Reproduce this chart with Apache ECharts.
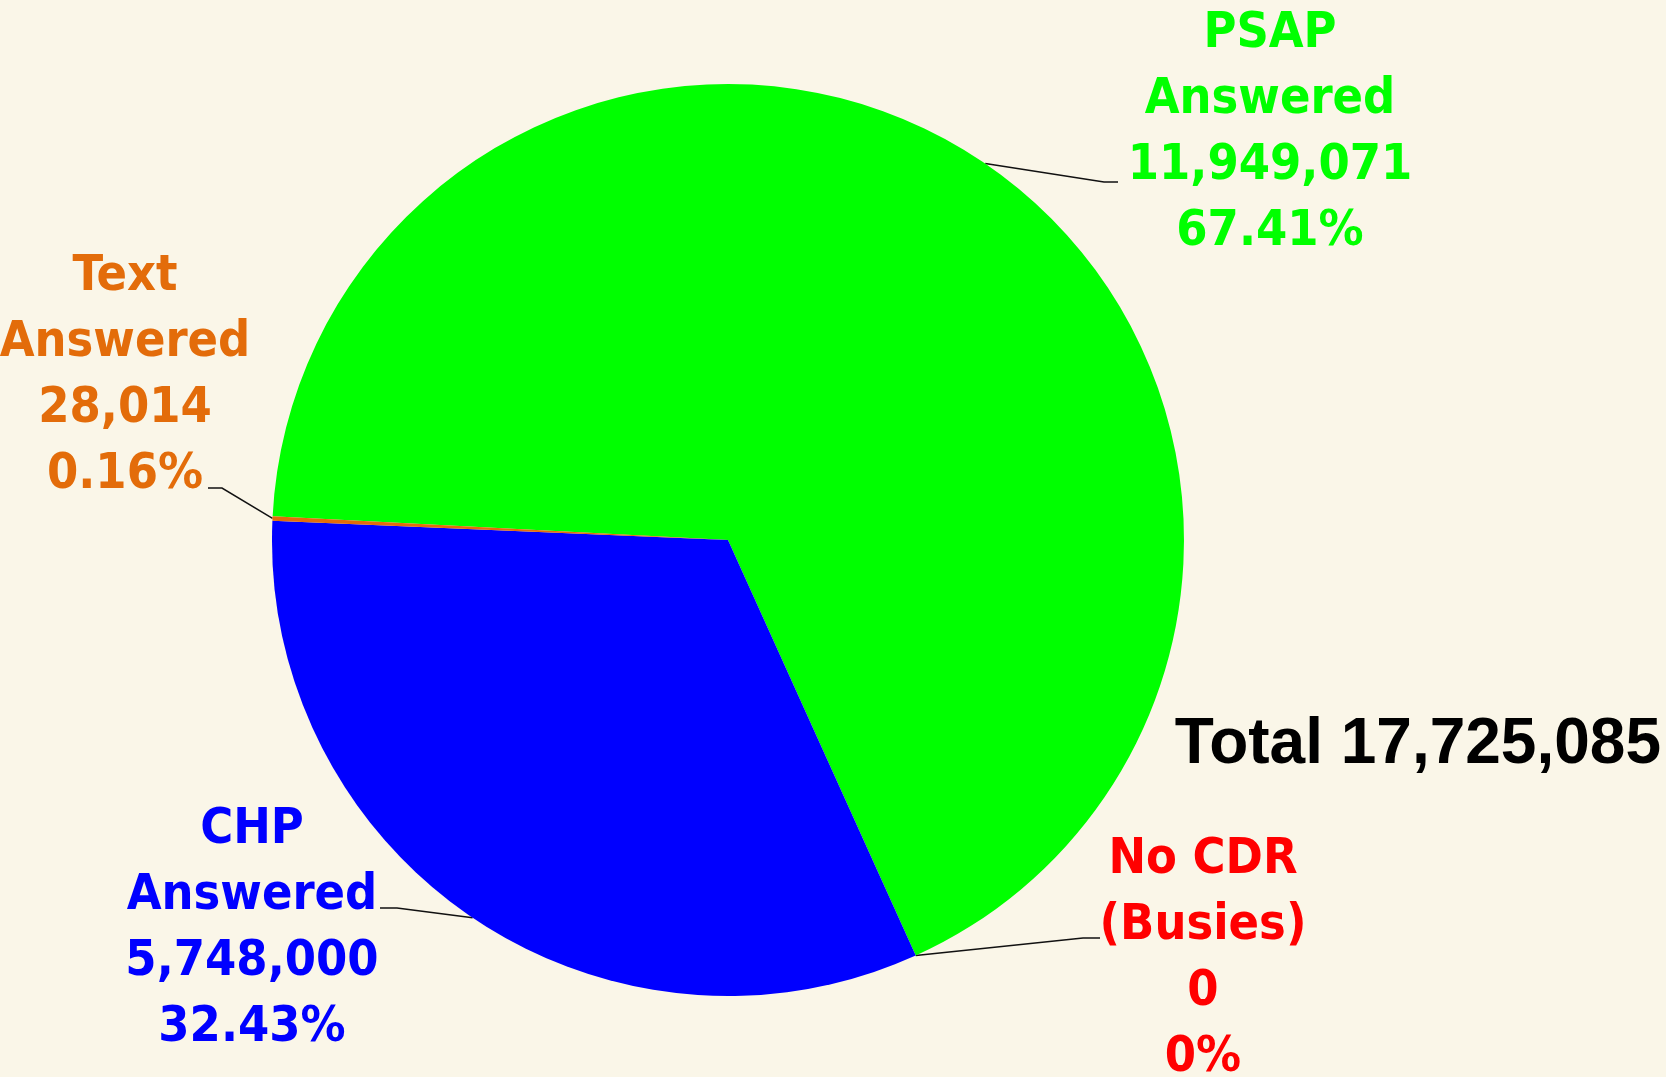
<!DOCTYPE html>
<html>
<head>
    <meta charset="utf-8">
    <title>Calls Answered</title>
    <script src="https://cdn.jsdelivr.net/npm/echarts@6/dist/echarts.min.js"></script>
    <style>
        html, body { margin: 0; padding: 0; background: #faf6e8; }
        #chart1 { width: 1666px; height: 1077px; }
    </style>
</head>
<body>
<div id="chart1"></div>
<script type="text/javascript">
    // data
    var categories = ['PSAP\nAnswered', 'No CDR\n(Busies)', 'CHP\nAnswered', 'Text\nAnswered'];
    var callCounts = [11949071, 0, 5748000, 28014];
    var sliceColors = ['#00ff00', '#ff0000', '#0000ff', '#e36c0a'];

    var total = callCounts.reduce(function (a, b) { return a + b; }, 0);

    // where each label sits, and where its leader line bends / ends
    var labelSpots = [
        { x: 1270, y: 133, elbow: [1104, 182], end: [1118, 182] },
        { x: 1203, y: 959, elbow: [1083, 938], end: [1100, 938] },
        { x: 252, y: 929, elbow: [397, 908], end: [380, 908] },
        { x: 125, y: 376, elbow: [222, 488], end: [208, 488] }
    ];

    var pieData = categories.map(function (name, i) {
        return {
            name: name,
            value: callCounts[i],
            itemStyle: { color: sliceColors[i] },
            label: { color: sliceColors[i] }
        };
    });

    var myChart1 = echarts.init(document.getElementById('chart1'));

    myChart1.setOption({
        backgroundColor: '#faf6e8',
        animation: false,
        title: {
            text: 'Total ' + total.toLocaleString('en-US'),
            right: 0,
            top: 708,
            textStyle: {
                fontFamily: '"Liberation Sans", Arial, sans-serif',
                fontSize: 64,
                fontWeight: 'bold',
                color: '#000'
            }
        },
        series: [{
            type: 'pie',
            center: [728, 540],
            radius: 456,
            startAngle: 177,
            avoidLabelOverlap: false,
            stillShowZeroSum: true,
            data: pieData,
            label: {
                show: true,
                position: 'outside',
                fontFamily: '"DejaVu Sans Condensed", "DejaVu Sans", sans-serif',
                fontWeight: 'bold',
                fontSize: 50,
                lineHeight: 66,
                align: 'center',
                formatter: function (p) {
                    return p.name + '\n' + p.value.toLocaleString('en-US') + '\n' + p.percent + '%';
                }
            },
            labelLine: {
                show: true,
                length: 30,
                length2: 20,
                lineStyle: { color: '#111', width: 1.5 }
            },
            labelLayout: function (params) {
                var spot = labelSpots[params.dataIndex];
                var pts = params.labelLinePoints;
                var start = pts ? pts[0] : null;
                if (!start) {
                    // fallback: point on the rim at the slice's mid angle
                    var before = 0;
                    for (var i = 0; i < params.dataIndex; i++) before += callCounts[i];
                    var mid = (177 - (before + callCounts[params.dataIndex] / 2) / total * 360) * Math.PI / 180;
                    start = [728 + 456 * Math.cos(mid), 540 - 456 * Math.sin(mid)];
                }
                return {
                    x: spot.x,
                    y: spot.y,
                    align: 'center',
                    verticalAlign: 'middle',
                    labelLinePoints: [start, spot.elbow, spot.end]
                };
            }
        }]
    });
</script>
</body>
</html>
